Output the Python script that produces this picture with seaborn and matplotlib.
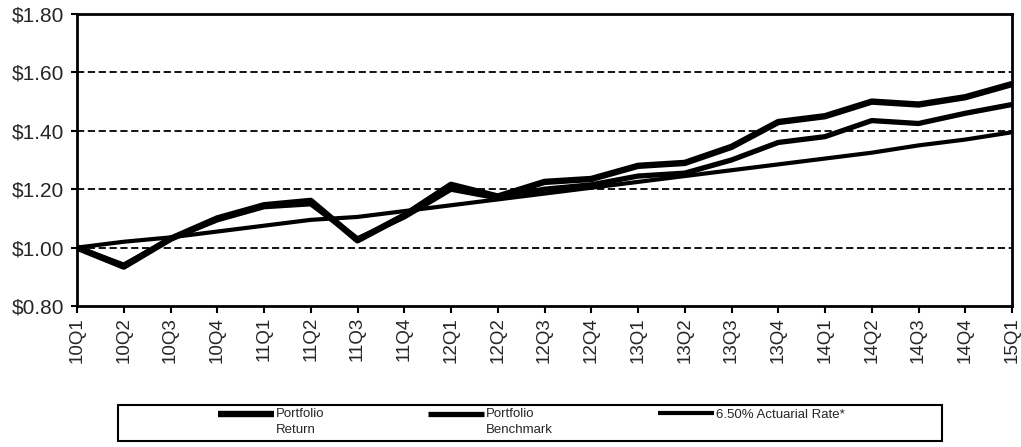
import matplotlib
matplotlib.use("Agg")
import matplotlib.pyplot as plt
import seaborn as sns
import pandas as pd
from matplotlib.lines import Line2D
from matplotlib.patches import Rectangle
from matplotlib.legend_handler import HandlerLine2D

quarters = ["10Q1", "10Q2", "10Q3", "10Q4", "11Q1", "11Q2", "11Q3", "11Q4",
            "12Q1", "12Q2", "12Q3", "12Q4", "13Q1", "13Q2", "13Q3", "13Q4",
            "14Q1", "14Q2", "14Q3", "14Q4", "15Q1"]
portfolio_return = [1.00, 0.935, 1.03, 1.10, 1.145, 1.16, 1.025, 1.11, 1.215, 1.175,
                    1.225, 1.235, 1.28, 1.29, 1.345, 1.43, 1.45, 1.50, 1.49, 1.515, 1.56]
portfolio_benchmark = [1.00, 0.94, 1.03, 1.095, 1.14, 1.15, 1.03, 1.105, 1.20, 1.17,
                       1.20, 1.215, 1.245, 1.255, 1.30, 1.36, 1.38, 1.435, 1.425, 1.46, 1.49]
actuarial_rate = [1.00, 1.02, 1.035, 1.055, 1.075, 1.095, 1.105, 1.125, 1.145, 1.165,
                  1.185, 1.205, 1.225, 1.245, 1.265, 1.285, 1.305, 1.325, 1.35, 1.37, 1.395]
y_ticks = [0.80, 1.00, 1.20, 1.40, 1.60, 1.80]
series_labels = ["Portfolio\nReturn", "Portfolio\nBenchmark", "6.50% Actuarial Rate*"]

sns.set_style("white")
plt.rcParams['font.family'] = ['Liberation Sans', 'DejaVu Sans']

fig = plt.figure(figsize=(10.21, 4.47), dpi=100)
ax = fig.add_axes([77/1021, 1-306/447, (1012-77)/1021, (306-14)/447])

df = pd.DataFrame({"q": quarters, "ret": portfolio_return,
                   "bm": portfolio_benchmark, "act": actuarial_rate})
widths = {"ret": 4.6, "bm": 3.8, "act": 3.0}
for col in ["act", "bm", "ret"]:
    sns.lineplot(data=df, x="q", y=col, ax=ax, color="black", linewidth=widths[col],
                 sort=False, zorder=3)

ax.set_xlim(0, len(quarters) - 1)
ax.set_ylim(0.80, 1.80)
ax.set_yticks(y_ticks)
ax.set_yticklabels([f"${v:.2f}" for v in y_ticks], fontsize=15)
ax.set_xticks(range(len(quarters)))
ax.set_xticklabels(quarters, rotation=90, fontsize=13.5)
ax.set_xlabel("")
ax.set_ylabel("")
for v in y_ticks[1:-1]:
    ax.axhline(v, color="black", linestyle=(0, (4, 2)), linewidth=1.3, zorder=1)
ax.tick_params(axis="y", direction="out", length=4, width=1.5, color="black",
               left=True, pad=5)
ax.tick_params(axis="x", direction="out", length=5, width=1.5, color="black",
               bottom=True, pad=3)
for s in ax.spines.values():
    s.set_color("black")
    s.set_linewidth(2)


class UpperLineHandler(HandlerLine2D):
    def __init__(self, shift=0.0, **kw):
        super().__init__(**kw)
        self.shift = shift

    def create_artists(self, legend, orig_handle, xdescent, ydescent, width,
                       height, fontsize, trans):
        arts = super().create_artists(legend, orig_handle, xdescent, ydescent,
                                      width, height, fontsize, trans)
        for a in arts:
            a.set_ydata([y + self.shift * fontsize for y in a.get_ydata()])
        return arts


# legend frame
fig.patches.append(Rectangle((118/1021, 1-441/447), (942-118)/1021, (441-405)/447,
                             transform=fig.transFigure, fill=False,
                             edgecolor="black", linewidth=1.5))

starts = [215, 425, 655]
keys = ["ret", "bm", "act"]
for x0, key, lab in zip(starts, keys, series_labels):
    h = Line2D([], [], color="black", linewidth=widths[key], solid_capstyle="butt")
    shift = 0.65 if "\n" in lab else 0.0
    leg = fig.legend([h], [lab], loc="upper left",
                     bbox_to_anchor=(x0/1021, 1-405/447), frameon=False,
                     handlelength=4.2, handletextpad=0.15, borderpad=0.25,
                     borderaxespad=0, labelspacing=0.1,
                     handler_map={h: UpperLineHandler(shift=shift)},
                     prop={"family": "Liberation Sans", "size": 9.5})
    for t in leg.get_texts():
        t.set_linespacing(1.45)

fig.savefig("out.png", dpi=100)
